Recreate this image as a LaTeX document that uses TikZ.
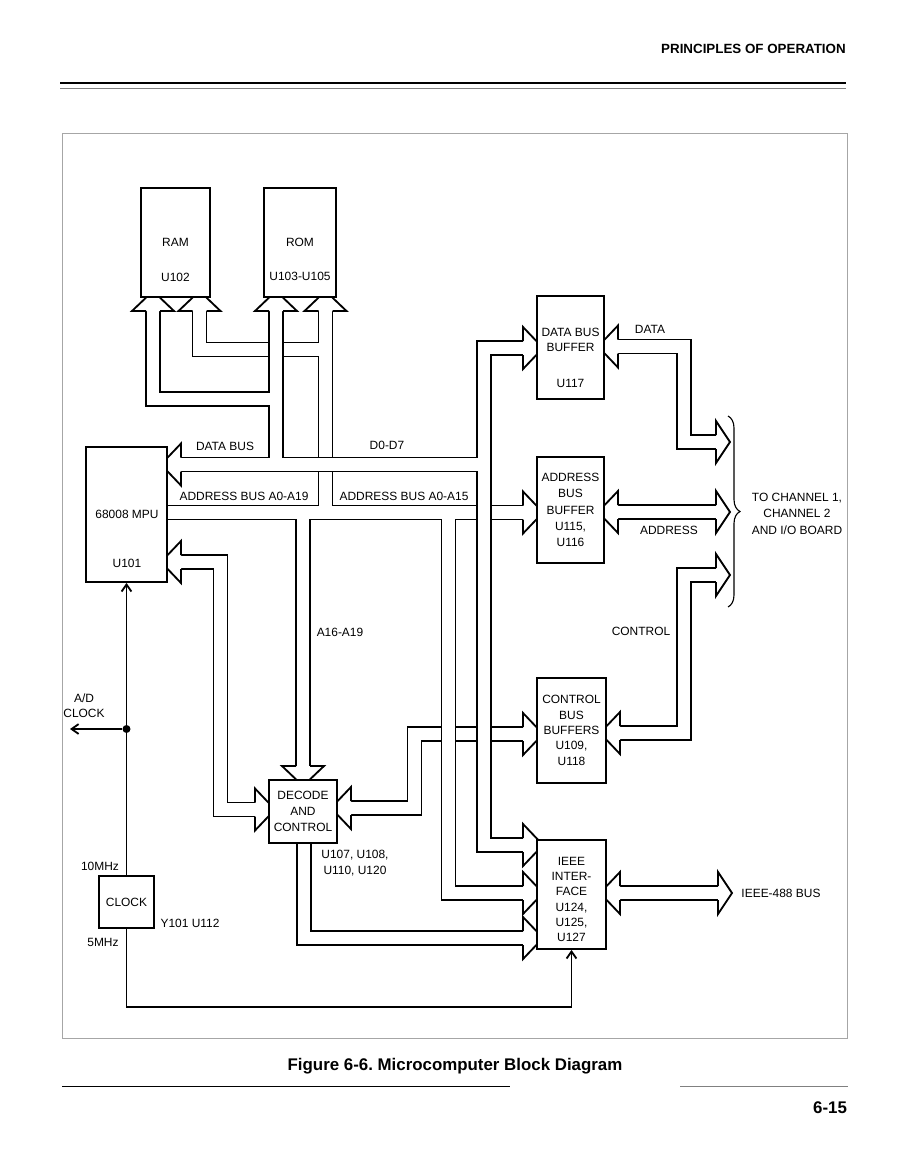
\documentclass[tikz,border=0pt]{standalone}
\usepackage{fontspec}
\setmainfont{Liberation Sans}
\usetikzlibrary{arrows.meta,decorations.pathreplacing}
\pgfdeclarelayer{buses}
\pgfsetlayers{buses,main}

% hollow bus arrow head: [length]{base of head}{direction}
\newcommand\fathead[3][20]{%
  \begin{scope}[shift={(#2)},rotate=#3]
    \fill[white] (0,-21) -- (#1,0) -- (0,21) -- cycle;
    \draw[busedge] (0,-7) -- (0,-21) -- (#1,0) -- (0,21) -- (0,7);
  \end{scope}}

\begin{document}
\begin{tikzpicture}[
  x=0.25mm,y=-0.25mm,
  every node/.style={font=\fontsize{8.5}{10.9}\selectfont,inner sep=0pt,align=center},
  unit/.style={draw,line width=1.3pt,fill=white},
  busnet/.style={draw=black,line width=11.2pt,line join=miter,
    postaction={draw=white,line width=8.6pt,line join=miter}},
  busedge/.style={line width=1.3pt,line join=miter},
  wire/.style={line width=1.3pt,-{Straight Barb[length=5pt,width=7pt]}}
]
  \useasboundingbox (0,0) rectangle (915,1161);

  % page furniture
  \node[font=\fontsize{9.5}{11}\selectfont\bfseries,anchor=east] (section) at (846,49) {PRINCIPLES OF OPERATION};
  \draw[line width=1.1pt] (60,83) -- (846,83);
  \draw[line width=0.6pt,gray] (60,88.5) -- (846,88.5);
  \draw[line width=0.5pt,gray!70] (62,133) rectangle (847,1038);
  \node[font=\fontsize{12}{14}\selectfont\bfseries] (caption) at (455,1066) {Figure 6-6.\ Microcomputer Block Diagram};
  \draw[line width=0.7pt] (62,1086) -- (510,1086);
  \draw[line width=0.5pt,gray] (680,1086) -- (848,1086);
  \node[font=\fontsize{12}{14}\selectfont\bfseries] (pageno) at (830,1108) {6-15};

  % blocks
  \node[unit,minimum width=17.25mm,minimum height=27.25mm] (ram) at (175.5,242.5) {};
  \node[unit,minimum width=18mm,minimum height=27.25mm] (rom) at (300,242.5) {};
  \node[unit,minimum width=20.25mm,minimum height=33.75mm] (mpu) at (126.5,514.5) {};
  \node[unit,minimum width=16.75mm,minimum height=25.75mm] (dbuf) at (570.5,347.5) {};
  \node[unit,minimum width=16.75mm,minimum height=26.5mm] (abuf) at (570.5,510) {ADDRESS\\[0.7pt]BUS\\[0.7pt]BUFFER\\[0.7pt]U115,\\[0.7pt]U116};
  \node[unit,minimum width=17.25mm,minimum height=26.25mm] (cbuf) at (571.5,730.5) {CONTROL\\BUS\\BUFFERS\\U109,\\U118};
  \node[unit,minimum width=17.25mm,minimum height=27.25mm] (ieee) at (571.5,894.5) {};
  \node[unit,minimum width=17mm,minimum height=15.75mm] (dec) at (303,811.5) {DECODE\\[0.7pt]AND\\[0.7pt]CONTROL};
  \node[unit,minimum width=13.75mm,minimum height=13mm] (clk) at (126.5,902) {CLOCK};

  \node (ramtxt) at (175.5,260) {RAM\\[13.5pt]U102};
  \node (romtxt) at (300,259.5) {ROM\\[13.5pt]U103-U105};
  \node (mputxt) at (127,539) {68008 MPU\\[23.5pt]U101};
  \node (dbuftxt) at (570.5,358) {DATA BUS\\BUFFER\\[15pt]U117};
  \node (ieeetxt) at (571.5,899.5) {IEEE\\INTER-\\FACE\\U124,\\U125,\\U127};

  \begin{pgfonlayer}{buses}
    % control bus: decode <-> control buffers
    \draw[busnet] (351,808) -- (414.5,808) -- (414.5,734) -- (523,734);
    \fathead{351,808}{180} \fathead{523,734}{0}
    % mpu <-> decode
    \draw[busnet] (181,562) -- (220.5,562) -- (220.5,809.5) -- (255,809.5);
    \fathead{181,562}{180} \fathead{255,809.5}{0}
    % decode -> ieee
    \draw[busnet] (304,835) -- (304,938) -- (523,938);
    \fathead{523,938}{0}
    % buffers to the outside
    \draw[busnet] (618,346.5) -- (684,346.5) -- (684,442) -- (716,442);
    \fathead{618,346.5}{180} \fathead[14]{716,442}{0}
    \draw[busnet] (618,512) -- (716,512);
    \fathead{618,512}{180} \fathead[14]{716,512}{0}
    \draw[busnet] (620,733) -- (684,733) -- (684,575) -- (716,575);
    \fathead{620,733}{180} \fathead[14]{716,575}{0}
    \draw[busnet] (620,893) -- (718,893);
    \fathead{620,893}{180} \fathead[14]{718,893}{0}
    % address bus
    \draw[busnet] (160,512.5) -- (523,512.5)
      (325.5,512.5) -- (325.5,311)
      (199.5,311) -- (199.5,349.5) -- (325.5,349.5)
      (303,512.5) -- (303,766)
      (448.5,512.5) -- (448.5,893) -- (523,893);
    \fathead{325.5,311}{90} \fathead{199.5,311}{90} \fathead{303,766}{270}
    \fathead{523,512.5}{0} \fathead{523,893}{0}
    % data bus
    \draw[busnet] (181,464.5) -- (484,464.5)
      (523,348) -- (484,348) -- (484,845) -- (523,845)
      (276,311) -- (276,464.5)
      (153,311) -- (153,399) -- (276,399);
    \fathead{181,464.5}{180} \fathead{153,311}{90} \fathead{276,311}{90}
    \fathead{523,348}{0} \fathead{523,845}{0}
  \end{pgfonlayer}

  % bus labels
  \node (dbuslbl) at (225,446) {DATA BUS};
  \node (d07lbl) at (387,445) {D0-D7};
  \node (a019lbl) at (244,496) {ADDRESS BUS A0-A19};
  \node (a015lbl) at (404,496) {ADDRESS BUS A0-A15};
  \node (a1619lbl) at (340,632) {A16-A19};
  \node (dectxt) at (355,863) {U107, U108,\\U110, U120};
  \node (datalbl) at (650,329) {DATA};
  \node (addrlbl) at (669,530) {ADDRESS};
  \node (ctrllbl) at (641,631) {CONTROL};
  \draw[line width=0.8pt,decorate,decoration={brace,amplitude=3mm}] (728,416) -- (728,607);
  \node (chanlbl) at (797,513.5) {TO CHANNEL 1,\\[0.8pt]CHANNEL 2\\[0.8pt]AND I/O BOARD};
  \node (gpiblbl) at (781,893) {IEEE-488 BUS};

  % clock wiring
  \node[circle,fill,minimum size=2mm] (tap) at (126.5,729) {};
  \coordinate (adout) at (70,729);
  \draw[wire] (clk.north) -- (mpu.south);
  \draw[wire] (tap) -- (adout);
  \draw[wire] (clk.south) -- (126.5,1007) -| (ieee.south);
  \node (adlbl) at (84,706) {A/D\\CLOCK};
  \node (f10) at (100,866) {10MHz};
  \node (f5) at (103,942) {5MHz};
  \node (clktxt) at (190,923) {Y101 U112};
\end{tikzpicture}
\end{document}
